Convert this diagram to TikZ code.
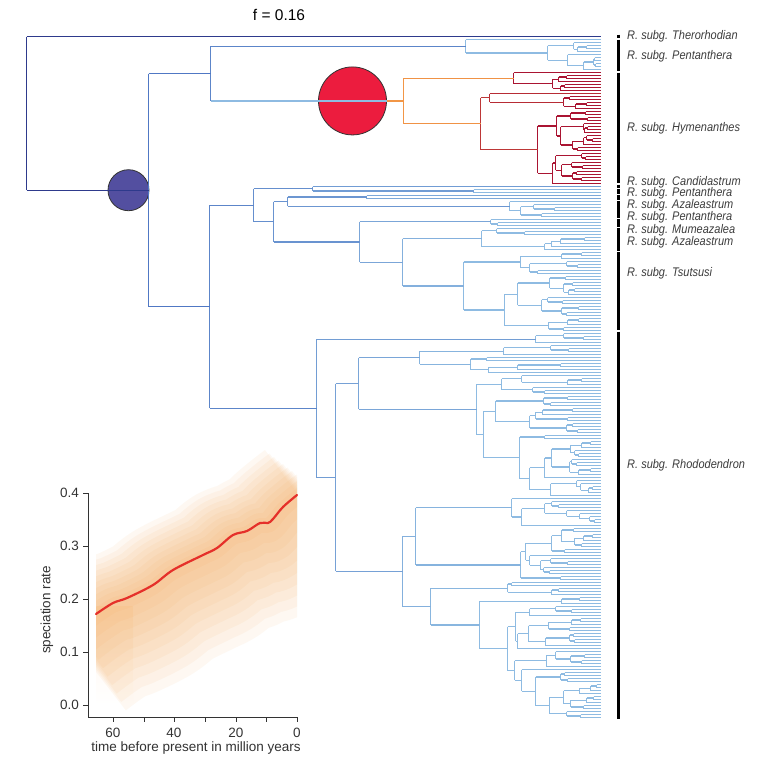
\documentclass[tikz,border=0pt]{standalone}
\usepackage{fontspec}
\usepackage{graphicx}
\setmainfont{Liberation Sans}
\definecolor{navy}{HTML}{2E3A8C}
\definecolor{bmid}{HTML}{5B7FC0}
\definecolor{blight}{HTML}{8EBBE2}
\definecolor{orng}{HTML}{F29B4B}
\definecolor{dred}{HTML}{A41A33}
\definecolor{cred}{HTML}{EC1C3E}
\definecolor{cblue}{HTML}{534FA0}
\definecolor{labgray}{HTML}{3C3C3C}
\definecolor{axgray}{HTML}{333333}
\definecolor{curvered}{HTML}{E5302A}
\definecolor{bandor}{HTML}{F7A24A}
\tikzset{
  br/.style={line width=1.15pt},
  hcirc/.style={circle,minimum size=68pt,inner sep=0pt,fill=cred,draw=black!80,line width=0.8pt},
  bcirc/.style={circle,minimum size=41pt,inner sep=0pt,fill=cblue,draw=black!80,line width=0.8pt},
  barseg/.style={line width=3pt,draw=black},
  cladelab/.style={anchor=west,text=labgray,inner sep=0pt,font=\fontsize{12.5}{14}\selectfont\itshape},
  ax/.style={draw=axgray,line width=0.9pt},
  axlab/.style={text=axgray,inner sep=0pt,font=\fontsize{13.5}{15}\selectfont}
}
\def\TXend{600}
\def\palette{0}
\def\treecmds{}
\newcommand\Setfix[3]{\def\colR{#1}\def\colG{#2}\def\colB{#3}}
\newcommand\Setbr[1]{%
  \ifnum\palette=0
    \pgfmathtruncatemacro\isnv{#1<100}%
    \ifnum\isnv=1 \Setfix{46}{58}{140}\else
      \pgfmathsetmacro\mixT{max(0,min(1,(#1-150)/300))}%
      \pgfmathtruncatemacro\colR{80+62*\mixT}%
      \pgfmathtruncatemacro\colG{120+67*\mixT}%
      \pgfmathtruncatemacro\colB{196+30*\mixT}%
    \fi
  \else
    \pgfmathsetmacro\mixT{max(0,min(1,(#1-400)/110))}%
    \pgfmathtruncatemacro\colR{242-72*\mixT}%
    \pgfmathtruncatemacro\colG{150-130*\mixT}%
    \pgfmathtruncatemacro\colB{70-20*\mixT}%
  \fi}
% store a segment, drawn later at the top level
\newcommand\Emit[4]{%
  \edef\tmpc{\noexpand\draw[br,draw={rgb,255:red,\colR;green,\colG;blue,\colB}] (#1,#2) -- (#3,#4);}%
  \xdef\treecmds{\unexpanded\expandafter{\treecmds}\unexpanded\expandafter{\tmpc}}}
\newcommand\Ttip[2]{\begingroup
  \pgfmathtruncatemacro\yy{36+3*#2}%
  \Setbr{#1}%
  \Emit{#1}{\yy}{\TXend}{\yy}%
  \xdef\retY{\yy}\endgroup}
\newcommand\Finish[2]{%
  \pgfmathsetmacro\ym{(\yL+\yR)/2}%
  \Setbr{#2}%
  \Emit{#2}{\yL}{#2}{\yR}%
  \Setbr{#1}%
  \Emit{#1}{\ym}{#2}{\ym}%
  \xdef\retY{\ym}}
\newcommand\Hn[4]{\begingroup
  #3\edef\yL{\retY}%
  #4\edef\yR{\retY}%
  \Finish{#1}{#2}%
  \endgroup}
\newcommand\Rtree[4]{\begingroup
  \ifnum#3=#4\relax
    \Ttip{#1}{#3}%
  \else
    \pgfmathtruncatemacro\kmax{#4-1}%
    \pgfmathrandominteger{\kk}{#3}{\kmax}%
    \pgfmathtruncatemacro\kk{\kk}%
    \pgfmathtruncatemacro\kn{\kk+1}%
    \pgfmathtruncatemacro\nL{\kk-#3+1}%
    \pgfmathtruncatemacro\nR{#4-\kk}%
    \pgfmathtruncatemacro\xL{round(#2+(\TXend-#2)*(0.04+0.55*rnd)*min(1,2.2/sqrt(\nL)))}%
    \pgfmathtruncatemacro\xR{round(#2+(\TXend-#2)*(0.04+0.55*rnd)*min(1,2.2/sqrt(\nR)))}%
    \edef\next{\noexpand\Rtree{#2}{\xL}{#3}{\kk}}\next
    \edef\yL{\retY}%
    \edef\next{\noexpand\Rtree{#2}{\xR}{\kn}{#4}}\next
    \edef\yR{\retY}%
    \Finish{#1}{#2}%
  \fi
  \endgroup}
\newcommand\Hymclade{\begingroup
  \def\palette{1}%
  \Hn{403}{513}{\Ttip{513}{12}}{\Rtree{513}{552}{13}{18}}\edef\yL{\retY}%
  \Hn{403}{480}{\Hn{480}{489}{\Ttip{489}{19}}{\Rtree{489}{563}{20}{24}}}{\Rtree{480}{537}{25}{49}}\edef\yR{\retY}%
  \pgfmathsetmacro\ym{(\yL+\yR)/2}%
  \Setfix{242}{150}{70}%
  \Emit{403}{\yL}{403}{\yR}%
  \Emit{386}{\ym}{403}{\ym}%
  \Setfix{142}{187}{226}%
  \Emit{210}{\ym}{386}{\ym}%
  \xdef\yHym{\ym}%
  \xdef\retY{\ym}%
  \endgroup}
\begin{document}
\begin{tikzpicture}[x=1pt,y=-1pt]
\useasboundingbox (0,0) rectangle (767,772);
\fill[white] (0,0) rectangle (767,772);
\pgfmathsetseed{2024}

\node[font=\fontsize{15.5}{18}\selectfont] (title) at (279,15) {f = 0.16};

% ---------- tree (computed first, drawn afterwards) ----------
\Hn{26}{148}{%
  \Hn{148}{210}{\Hn{210}{465}{\Ttip{465}{1}}{\Rtree{465}{547}{2}{11}}}{\Hymclade}%
}{%
  \Hn{148}{209}{%
    \Hn{209}{253}{%
      \Hn{253}{312}{\Ttip{312}{50}}{\Rtree{312}{473}{51}{52}}%
    }{%
      \Hn{253}{273}{%
        \Hn{273}{287}{\Rtree{287}{366}{53}{54}}{\Rtree{287}{509}{55}{60}}%
      }{%
        \Hn{273}{359}{\Rtree{359}{490}{61}{63}}{%
          \Hn{359}{402}{\Rtree{402}{481}{64}{71}}{%
            \Hn{402}{463}{\Rtree{463}{520}{72}{79}}{\Rtree{463}{504}{80}{98}}}}%
      }%
    }%
  }{%
    \Hn{209}{316}{\Rtree{316}{535}{99}{102}}{%
      \Hn{316}{335}{%
        \Hn{335}{358}{%
          \Hn{358}{419}{\Rtree{419}{503}{103}{106}}{\Rtree{419}{470}{107}{112}}%
        }{%
          \Hn{358}{476}{\Rtree{476}{501}{113}{119}}{%
            \Hn{476}{483}{\Rtree{483}{495}{120}{132}}{\Rtree{483}{519}{133}{153}}}%
        }%
      }{%
        \Hn{335}{402}{%
          \Hn{402}{415}{\Rtree{415}{511}{154}{163}}{\Rtree{415}{520}{164}{181}}%
        }{%
          \Hn{402}{430}{\Rtree{430}{507}{182}{186}}{%
            \Hn{430}{479}{\Rtree{479}{561}{187}{189}}{\Rtree{479}{507}{190}{227}}}%
        }%
      }%
    }%
  }%
}
\edef\yRoot{\retY}

\begin{scope}[shift={(0.5,0.5)}]
  % rate-shift circles under the branches
  \node[hcirc] (hymnode) at (352,\yHym) {};
  \node[bcirc] (basenode) at (128,\yRoot) {};
  % all branch segments
  \treecmds
  \draw[br,draw=navy] (26,36) -- (26,\yRoot);
  \draw[br,draw=navy] (26,36) -- (\TXend,36);
\end{scope}

% ---------- clade bars ----------
\foreach \a/\b in {34.5/37.5,39.5/70.5,72.5/183,184.5/187.5,188.5/193.5,194.5/199.5,200.5/217.5,218.5/226.5,227.5/250.5,251.5/330,331.5/719}
  \draw[barseg] (618,\a) -- (618,\b);

% ---------- clade labels ----------
\node[cladelab] (l1) at (627,36) {\scalebox{0.88}[1]{R. subg. Therorhodian}};
\node[cladelab] (l2) at (627,56) {\scalebox{0.88}[1]{R. subg. Pentanthera}};
\node[cladelab] (l3) at (627,128) {\scalebox{0.88}[1]{R. subg. Hymenanthes}};
\node[cladelab] (l4) at (627,182) {\scalebox{0.88}[1]{R. subg. Candidastrum}};
\node[cladelab] (l5) at (627,193.5) {\scalebox{0.88}[1]{R. subg. Pentanthera}};
\node[cladelab] (l6) at (627,205.5) {\scalebox{0.88}[1]{R. subg. Azaleastrum}};
\node[cladelab] (l7) at (627,217.5) {\scalebox{0.88}[1]{R. subg. Pentanthera}};
\node[cladelab] (l8) at (627,230) {\scalebox{0.88}[1]{R. subg. Mumeazalea}};
\node[cladelab] (l9) at (627,242) {\scalebox{0.88}[1]{R. subg. Azaleastrum}};
\node[cladelab] (l10) at (627,273) {\scalebox{0.88}[1]{R. subg. Tsutsusi}};
\node[cladelab] (l11) at (627,465) {\scalebox{0.88}[1]{R. subg. Rhododendron}};

% ---------- inset plot ----------
\begin{scope}
  \clip (96,440) rectangle (297,716);
  \shade[top color=bandor!12, bottom color=white] (96,606) rectangle (133,705);
  \foreach \i in {1,...,10}
    \draw[bandor,line width=15*\i pt,opacity=0.07,line join=round,yshift=-2.5*\i pt]
      plot[smooth,tension=0.55] coordinates {(80,626) (96,614) (113,603) (127,598) (153,585) (173,570) (203,555) (217,548) (233,535) (247,531) (260,523) (268,523) (273,519) (283,507) (297,495) (310,485)};
\end{scope}
\draw[curvered,line width=2.2pt,line cap=round]
  plot[smooth,tension=0.55] coordinates {(96,614) (113,603) (127,598) (153,585) (173,570) (203,555) (217,548) (233,535) (247,531) (260,523) (268,523) (273,519) (283,507) (297,495)};
\draw[ax] (88,493) -- (88,717) -- (297,717);
\foreach \yy in {493,546,599,652,705} \draw[ax] (83,\yy) -- (88,\yy);
\foreach \xx in {113,144,174,205,236,266,297} \draw[ax] (\xx,717) -- (\xx,722);
\node[axlab,anchor=east] (y4) at (79,493) {0.4};
\node[axlab,anchor=east] (y3) at (79,546) {0.3};
\node[axlab,anchor=east] (y2) at (79,599) {0.2};
\node[axlab,anchor=east] (y1) at (79,652) {0.1};
\node[axlab,anchor=east] (y0) at (79,705) {0.0};
\node[axlab] (x60) at (113,733) {60};
\node[axlab] (x40) at (174,733) {40};
\node[axlab] (x20) at (236,733) {20};
\node[axlab] (x0) at (297,733) {0};
\node[axlab] (xlab) at (196,748) {time before present in million years};
\node[axlab,rotate=90] (ylab) at (47,610) {speciation rate};
\end{tikzpicture}
\end{document}
